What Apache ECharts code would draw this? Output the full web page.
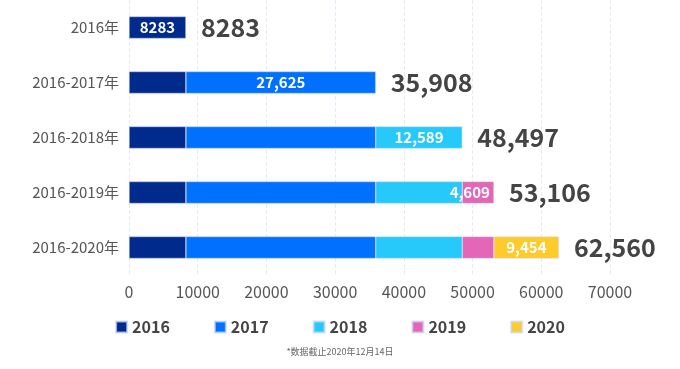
<!DOCTYPE html>
<html><head><meta charset="utf-8">
<script src="https://cdn.jsdelivr.net/npm/echarts@6/dist/echarts.min.js"></script>
<style>html,body{margin:0;padding:0;background:#fff}#c{width:680px;height:369px}</style>
</head><body><div id="c"></div>
<script>
const categories = ['2016年','2016-2017年','2016-2018年','2016-2019年','2016-2020年'];
const seriesNames = ['2016','2017','2018','2019','2020'];
const v2016 = [8283, 8283, 8283, 8283, 8283];
const v2017 = [null, 27625, 27625, 27625, 27625];
const v2018 = [null, null, 12589, 12589, 12589];
const v2019 = [null, null, null, 4609, 4609];
const v2020 = [null, null, null, null, 9454];
const totals = [8283, 35908, 48497, 53106, 62560];
const xTicks = [0, 10000, 20000, 30000, 40000, 50000, 60000, 70000];
const colors = ['#002b8c', '#0071ff', '#27c9fa', '#e466b6', '#fdcb2c'];

const FONT = '"Noto Sans CJK SC", "Noto Sans", sans-serif';
const fmt = (v, i) => i === 0 ? String(v) : v.toLocaleString('en-US');
const seriesData = [v2016, v2017, v2018, v2019, v2020];

const series = seriesData.map((arr, si) => ({
  name: seriesNames[si],
  type: 'bar',
  stack: 'total',
  barWidth: 22,
  itemStyle: { color: colors[si], borderColor: 'rgba(200,215,255,0.7)', borderWidth: 0.6 },
  data: arr.map((v, i) => ({
    value: v,
    label: {
      show: i === si && v != null,
      position: si === 3 ? 'insideRight' : 'inside',
      distance: 4,
      color: '#fff',
      fontFamily: FONT,
      fontWeight: 'bold',
      fontSize: 15,
      formatter: p => fmt(p.value, p.dataIndex)
    }
  }))
}));

series.push({
  name: 'total',
  type: 'bar',
  barWidth: 22,
  barGap: '-100%',
  itemStyle: { color: 'rgba(0,0,0,0)' },
  silent: true,
  z: 1,
  label: {
    show: true,
    position: 'right',
    distance: 15,
    color: '#444',
    fontFamily: FONT,
    fontWeight: 'bold',
    fontSize: 25,
    formatter: p => fmt(p.value, p.dataIndex)
  },
  data: totals
});

const chart = echarts.init(document.getElementById('c'), null, { renderer: 'canvas' });
chart.setOption({
  animation: false,
  backgroundColor: '#fff',
  grid: { left: 129, right: 70, top: 0, bottom: 94, containLabel: false },
  xAxis: {
    type: 'value', min: 0, max: 70000, interval: 10000,
    axisLine: { show: false }, axisTick: { show: false },
    splitLine: { show: true, lineStyle: { type: 'dashed', color: '#e6eaf6', width: 1 } },
    axisLabel: { color: '#555', fontFamily: FONT, fontSize: 16, margin: 9,
      formatter: v => xTicks.includes(v) ? String(v) : '' }
  },
  yAxis: {
    type: 'category', inverse: true, data: categories,
    axisLine: { show: false }, axisTick: { show: false },
    axisLabel: { color: '#555', fontFamily: FONT, fontSize: 15, margin: 10 }
  },
  legend: {
    data: seriesNames, left: 'center', top: 314,
    icon: 'rect', itemWidth: 11, itemHeight: 11, itemGap: 44, itemTextGap: 7,
    textStyle: { color: '#444', fontFamily: FONT, fontWeight: 'bold', fontSize: 16 }
  },
  graphic: [{
    type: 'text', left: 'center', top: 347,
    style: { text: '*数据截止2020年12月14日', fill: '#666', font: '9px "Noto Sans CJK SC", sans-serif' }
  }],
  series
});
</script></body></html>
